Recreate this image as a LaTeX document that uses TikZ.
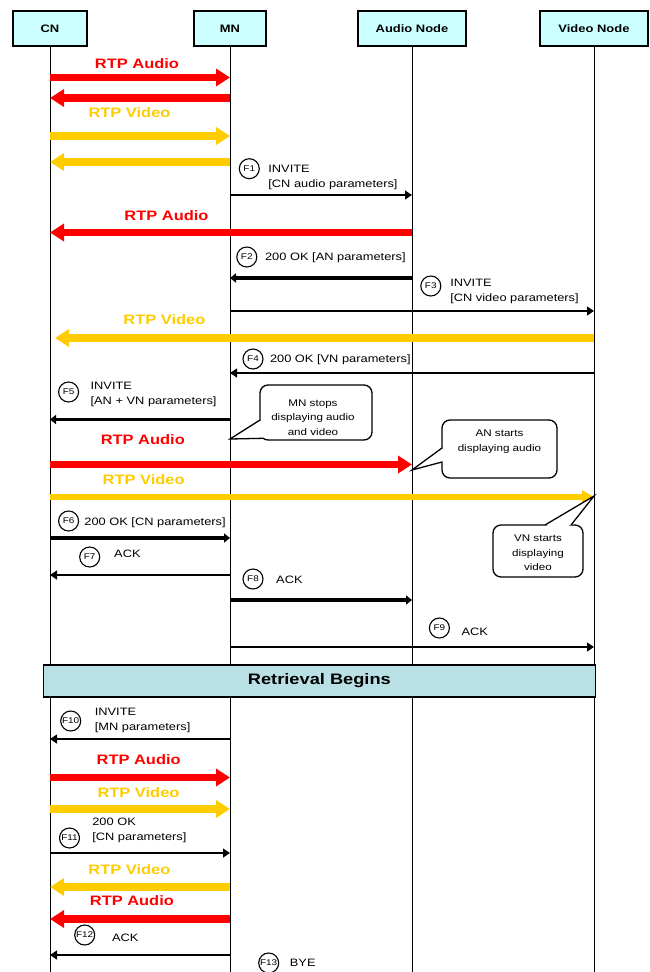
\documentclass[tikz,border=0pt]{standalone}
\usepackage{fontspec}
\setmainfont{Liberation Sans}[FakeStretch=1.2]
\usetikzlibrary{arrows.meta}
\definecolor{rtpred}{RGB}{255,0,0}
\definecolor{rtpyellow}{RGB}{255,204,0}
\definecolor{boxcyan}{RGB}{204,255,255}
\definecolor{bannerteal}{RGB}{185,224,228}

\begin{document}
\begin{tikzpicture}[x=1pt,y=-1pt,line width=1pt,>={Triangle[length=7pt,width=9pt]},
  ent/.style={draw,line width=1.4pt,fill=boxcyan,minimum height=35pt,inner sep=0pt,font=\bfseries\fontsize{10.8}{12}\selectfont},
  rtplbl/.style={font=\bfseries\fontsize{13.7}{16}\selectfont},
  audio/.style={rtpred,line width=7.5pt,-{Triangle[length=14pt,width=17pt]}},
  video/.style={rtpyellow,line width=7.5pt,-{Triangle[length=14pt,width=17pt]}},
  msg/.style={->,line width=1.3pt},
  bigmsg/.style={line width=3.5pt,-{Triangle[length=6pt,width=9pt]}},
  flow/.style={draw,circle,line width=1.1pt,inner sep=0pt,minimum size=20pt,font=\fontsize{8.3}{9}\selectfont},
  txt/.style={anchor=west,align=left,inner sep=0pt,font=\fontsize{10.7}{15}\selectfont},
  notebox/.style={draw,fill=white,line width=1.3pt,rounded corners=8pt},
  notetxt/.style={align=center,inner sep=0pt,font=\fontsize{9.7}{14.5}\selectfont}]
  \useasboundingbox (0,0) rectangle (649,972);

  % entities and lifelines
  \node[ent,minimum width=74pt] (CN) at (50,28.5) {CN};
  \node[ent,minimum width=72pt] (MN) at (230,28.5) {MN};
  \node[ent,minimum width=108pt] (AN) at (412,28.5) {Audio Node};
  \node[ent,minimum width=108pt] (VN) at (594,28.5) {Video Node};
  \foreach \n in {CN,MN,AN,VN}
    \draw (\n.south) -- (\n.south |- 0,972);

  % media through the MN
  \node[rtplbl,rtpred] (ra1) at (137,63.3) {RTP Audio};
  \draw[audio] (CN |- 0,77.5) -- (MN |- 0,77.5);
  \draw[audio] (MN |- 0,98) -- (CN |- 0,98);
  \node[rtplbl,rtpyellow] (rv1) at (129.5,113) {RTP Video};
  \draw[video] (CN |- 0,136) -- (MN |- 0,136);
  \draw[video] (MN |- 0,162) -- (CN |- 0,162);

  % F1 - F4
  \node[flow] (f1) at (249.3,168.7) {F1};
  \node[txt] (m1) at (267.9,177) {INVITE\\{[}CN audio parameters]};
  \draw[msg] (MN |- 0,195) -- (AN |- 0,195);
  \node[rtplbl,rtpred] (ra2) at (166.5,215.7) {RTP Audio};
  \draw[audio] (AN |- 0,232.5) -- (CN |- 0,232.5);
  \node[flow] (f2) at (246.8,257) {F2};
  \node[txt] (m2) at (264.6,258) {200 OK [AN parameters]};
  \draw[bigmsg] (AN |- 0,278) -- (MN |- 0,278);
  \node[flow] (f3) at (430.8,286) {F3};
  \node[txt] (m3) at (449.8,291.5) {INVITE\\{[}CN video parameters]};
  \draw[msg] (MN |- 0,311) -- (VN |- 0,311);
  \node[rtplbl,rtpyellow] (rv2) at (164.4,319.3) {RTP Video};
  \draw[video,shorten >=5pt] (VN |- 0,338) -- (CN |- 0,338);
  \node[flow] (f4) at (253,359) {F4};
  \node[txt] (m4) at (269.5,360) {200 OK [VN parameters]};
  \draw[msg] (VN |- 0,373) -- (MN |- 0,373);

  % F5 and the switch of media
  \node[flow] (f5) at (68.6,392) {F5};
  \node[txt] (m5) at (90.1,394.5) {INVITE\\{[}AN + VN parameters]};
  \draw[bigmsg] (MN |- 0,419.5) -- (CN |- 0,419.5);
  \draw[notebox] (260,385) rectangle (372,440);
  \fill[white] (MN |- 0,439) -- (260,420) -- (266,430) -- (263,438.3) -- cycle;
  \draw[line width=1.3pt] (260,420) -- (MN |- 0,439) -- (263,438.3);
  \node[notetxt] (n1) at (313,417.5) {MN stops\\displaying audio\\and video};
  \node[rtplbl,rtpred] (ra3) at (142.8,440) {RTP Audio};
  \draw[audio] (CN |- 0,464.5) -- (AN |- 0,464.5);
  \draw[notebox] (442,420) rectangle (557,478);
  \fill[white] (AN |- 0,470) -- (442,448) -- (446,455) -- (442,462) -- cycle;
  \draw[line width=1.3pt] (442,448) -- (AN |- 0,470) -- (442,462);
  \node[notetxt] (n2) at (499.5,441.5) {AN starts\\displaying audio};
  \node[rtplbl,rtpyellow] (rv3) at (143.7,479.3) {RTP Video};
  \draw[video,line width=5.5pt,-{Triangle[length=12pt,width=13pt]}] (CN |- 0,497) -- (VN |- 0,497);
  \draw[notebox] (493,525) rectangle (583,577);
  \fill[white] (VN |- 0,496) -- (545,525) -- (558,528.5) -- (571,525) -- cycle;
  \draw[line width=1.3pt] (545,525) -- (VN |- 0,496) -- (571,525);
  \node[notetxt] (n3) at (538,553) {VN starts\\displaying\\video};

  % F6 - F9
  \node[flow] (f6) at (68.6,521) {F6};
  \node[txt] (m6) at (83.9,523) {200 OK [CN parameters]};
  \draw[bigmsg] (CN |- 0,538) -- (MN |- 0,538);
  \node[flow] (f7) at (89.7,557) {F7};
  \node[txt] (m7) at (113.7,554) {ACK};
  \draw[msg] (MN |- 0,575) -- (CN |- 0,575);
  \node[flow] (f8) at (253,579) {F8};
  \node[txt] (m8) at (275.7,580) {ACK};
  \draw[bigmsg] (MN |- 0,600) -- (AN |- 0,600);
  \node[flow] (f9) at (439.4,628) {F9};
  \node[txt] (m9) at (461,632) {ACK};
  \draw[msg] (MN |- 0,647) -- (VN |- 0,647);

  % retrieval
  \node[draw,line width=1.8pt,fill=bannerteal,minimum width=552pt,minimum height=32pt,font=\bfseries\fontsize{15.2}{18}\selectfont] (rb) at (319.4,681) {Retrieval Begins};
  \node[flow] (f10) at (70.7,721) {F10};
  \node[txt] (m10) at (94.3,720.5) {INVITE\\{[}MN parameters]};
  \draw[msg] (MN |- 0,739) -- (CN |- 0,739);
  \node[rtplbl,rtpred] (ra4) at (138.7,759.3) {RTP Audio};
  \draw[audio] (CN |- 0,777.5) -- (MN |- 0,777.5);
  \node[rtplbl,rtpyellow] (rv4) at (138.5,792.7) {RTP Video};
  \draw[video] (CN |- 0,809) -- (MN |- 0,809);
  \node[flow] (f11) at (69.5,838) {F11};
  \node[txt] (m11) at (91.8,830) {200 OK\\{[}CN parameters]};
  \draw[msg] (CN |- 0,853) -- (MN |- 0,853);
  \node[rtplbl,rtpyellow] (rv5) at (129.4,869.3) {RTP Video};
  \draw[video] (MN |- 0,887) -- (CN |- 0,887);
  \node[rtplbl,rtpred] (ra5) at (131.9,901) {RTP Audio};
  \draw[audio] (MN |- 0,919) -- (CN |- 0,919);
  \node[flow] (f12) at (84.7,935) {F12};
  \node[txt] (m12) at (111.6,938) {ACK};
  \draw[msg] (MN |- 0,955) -- (CN |- 0,955);
  \node[flow] (f13) at (268.7,963) {F13};
  \node[txt] (m13) at (289.4,963) {BYE};
\end{tikzpicture}
\end{document}
